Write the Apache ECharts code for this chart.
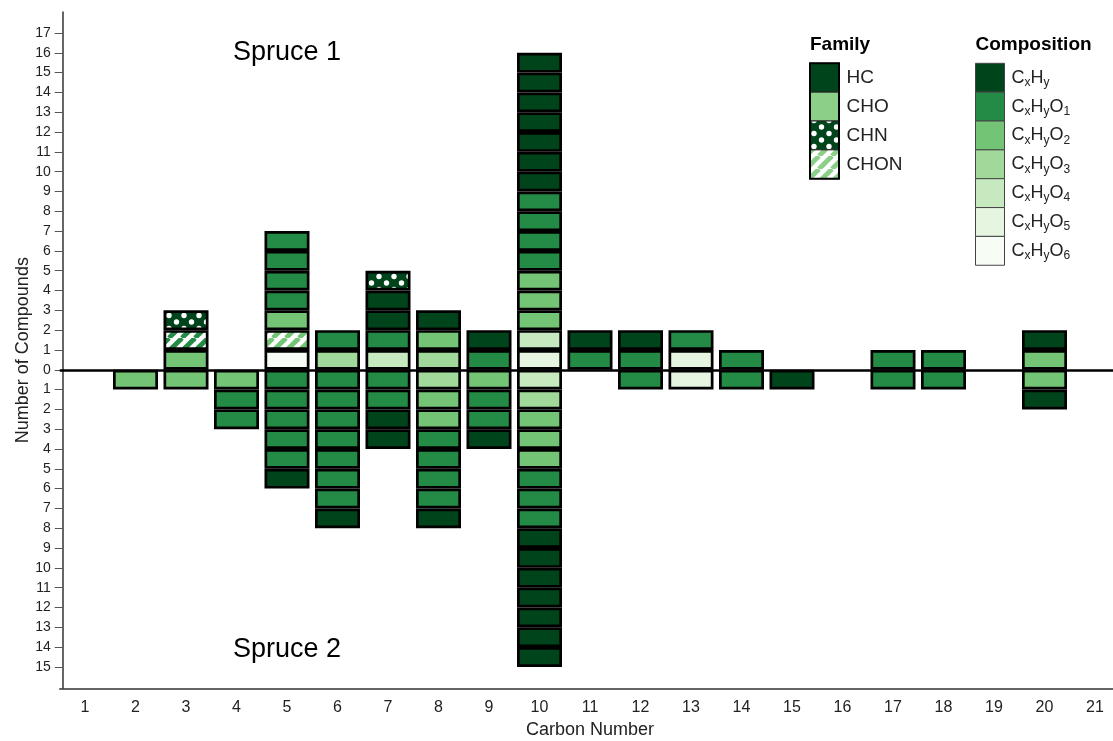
<!DOCTYPE html>
<html>
<head>
<meta charset="utf-8">
<script src="https://cdn.jsdelivr.net/npm/echarts@6/dist/echarts.min.js"></script>
<style>
  html, body { margin: 0; padding: 0; background: #fff; overflow: hidden; }
  #chart { width: 1121px; height: 741px; }
</style>
</head>
<body>
<div id="chart"></div>
<script>
// Carbon numbers along the x axis
const carbonNumbers = ['1','2','3','4','5','6','7','8','9','10','11','12','13','14','15','16','17','18','19','20','21'];

// Tick positions on the count axis (negative side = Spruce 2)
const countTicks = [-15,-14,-13,-12,-11,-10,-9,-8,-7,-6,-5,-4,-3,-2,-1,0,1,2,3,4,5,6,7,8,9,10,11,12,13,14,15,16,17];

// Compounds found in Spruce 1, one list per carbon number,
// each cell listed outward from the zero line.
const spruce1Cells = [
  [],
  [],
  ['O2','CHON1','CHN'],
  [],
  ['O6','CHON2','O2','O1','O1','O1','O1'],
  ['O3','O1'],
  ['O4','O1','HC','HC','CHN'],
  ['O3','O2','HC'],
  ['O1','HC'],
  ['O5','O4','O2','O2','O2','O1','O1','O1','O1','HC','HC','HC','HC','HC','HC','HC'],
  ['O1','HC'],
  ['O1','HC'],
  ['O5','O1'],
  ['O1'],
  [],
  [],
  ['O1'],
  ['O1'],
  [],
  ['O2','HC'],
  []
];

// Compounds found in Spruce 2, same layout (drawn below the zero line).
const spruce2Cells = [
  [],
  ['O2'],
  ['O2'],
  ['O2','O1','O1'],
  ['O1','O1','O1','O1','O1','HC'],
  ['O1','O1','O1','O1','O1','O1','O1','HC'],
  ['O1','O1','HC','HC'],
  ['O3','O2','O2','O1','O1','O1','O1','HC'],
  ['O2','O1','O1','HC'],
  ['O4','O3','O2','O2','O2','O1','O1','O1','HC','HC','HC','HC','HC','HC','HC'],
  [],
  ['O1'],
  ['O5'],
  ['O1'],
  ['HC'],
  [],
  ['O1'],
  ['O1'],
  [],
  ['O2','HC'],
  []
];

// Legend entries
const familyLabels = ['HC', 'CHO', 'CHN', 'CHON'];
const compositionOxygens = ['', '1', '2', '3', '4', '5', '6'];

// ---- styles ----
const FONT = 'Liberation Sans, Arial, Helvetica, sans-serif';
const greens = {
  HC: '#00441b',
  O1: '#238b45',
  O2: '#74c476',
  O3: '#a1d99b',
  O4: '#c7e9c0',
  O5: '#e5f5e0',
  O6: '#f7fcf5'
};
const choColor = '#8ccf89';

function dotPattern(bg) {
  const w = 15, h = 13;
  const c = document.createElement('canvas');
  c.width = w; c.height = h;
  const g = c.getContext('2d');
  g.fillStyle = bg; g.fillRect(0, 0, w, h);
  g.fillStyle = '#ffffff';
  [[4, 3.5], [11.5, 10]].forEach(([x, y]) => {
    g.beginPath(); g.arc(x, y, 2.7, 0, Math.PI * 2); g.fill();
  });
  return { image: c, repeat: 'repeat' };
}

function stripePattern(fg) {
  const p = 13;
  const c = document.createElement('canvas');
  c.width = p; c.height = p;
  const g = c.getContext('2d');
  g.fillStyle = '#ffffff'; g.fillRect(0, 0, p, p);
  g.strokeStyle = fg; g.lineWidth = 4.8;
  for (let k = -1; k <= 1; k++) {
    g.beginPath(); g.moveTo(k * p, p); g.lineTo(k * p + p, 0); g.stroke();
  }
  return { image: c, repeat: 'repeat' };
}

const fills = Object.assign({}, greens, {
  CHN: dotPattern(greens.HC),
  CHON1: stripePattern(greens.O1),
  CHON2: stripePattern(greens.O2)
});

// ---- series: one stacked layer per cell depth ----
const series = [];
function addSide(cells, sign, tag) {
  const depth = Math.max(...cells.map(list => list.length));
  for (let k = 0; k < depth; k++) {
    series.push({
      name: tag + '-' + k,
      type: 'bar',
      stack: 'cells',
      barWidth: 45,
      silent: true,
      itemStyle: { borderColor: '#000', borderWidth: 2.7 },
      data: cells.map(list => k < list.length
        ? { value: sign, itemStyle: { color: fills[list[k]] } }
        : '-')
    });
  }
}
addSide(spruce1Cells, 1, 'spruce1');
addSide(spruce2Cells, -1, 'spruce2');

// zero line dividing the two samples
series[0].markLine = {
  silent: true,
  symbol: 'none',
  label: { show: false },
  lineStyle: { color: '#000', width: 2.5, type: 'solid' },
  data: [{ yAxis: 0 }]
};

// ---- legend drawn as graphic elements ----
const graphics = [];
const famX = 810, compX = 975.5, legTop = 63.3, cellH = 28.85;

graphics.push({ type: 'text', x: famX, y: 45, style: { text: 'Family', font: 'bold 19px ' + FONT, fill: '#000', verticalAlign: 'middle' } });
graphics.push({ type: 'text', x: compX, y: 45, style: { text: 'Composition', font: 'bold 19px ' + FONT, fill: '#000', verticalAlign: 'middle' } });

const familyFills = [greens.HC, choColor, dotPattern(greens.HC), stripePattern(choColor)];
familyLabels.forEach((label, i) => {
  graphics.push({ type: 'rect', shape: { x: famX, y: legTop + i * cellH, width: 29, height: cellH },
    style: { fill: familyFills[i], stroke: '#222', lineWidth: 1 } });
  graphics.push({ type: 'text', x: 846.5, y: legTop + (i + 0.5) * cellH,
    style: { text: label, font: '19px ' + FONT, fill: '#222', verticalAlign: 'middle' } });
});
graphics.push({ type: 'rect', shape: { x: famX, y: legTop, width: 29, height: cellH * familyLabels.length },
  style: { fill: 'none', stroke: '#000', lineWidth: 2 } });

const compKeys = ['HC', 'O1', 'O2', 'O3', 'O4', 'O5', 'O6'];
compositionOxygens.forEach((n, i) => {
  graphics.push({ type: 'rect', shape: { x: compX, y: legTop + i * cellH, width: 29, height: cellH },
    style: { fill: greens[compKeys[i]], stroke: '#444', lineWidth: 1 } });
  const txt = '{m|C}{s|x}{m|H}{s|y}' + (n ? '{m|O}{s|' + n + '}' : '');
  graphics.push({ type: 'text', x: 1011.5, y: legTop + (i + 0.5) * cellH,
    style: {
      text: txt, fill: '#222', verticalAlign: 'middle',
      rich: {
        m: { fontSize: 18, fontFamily: FONT, fill: '#222', lineHeight: 22, verticalAlign: 'middle' },
        s: { fontSize: 12, fontFamily: FONT, fill: '#222', lineHeight: 14, verticalAlign: 'bottom' }
      }
    } });
});

// sample names
graphics.push({ type: 'text', x: 287, y: 53, style: { text: 'Spruce 1', font: '27px ' + FONT, fill: '#000', align: 'center', verticalAlign: 'middle' } });
graphics.push({ type: 'text', x: 287, y: 650, style: { text: 'Spruce 2', font: '27px ' + FONT, fill: '#000', align: 'center', verticalAlign: 'middle' } });

const chart = echarts.init(document.getElementById('chart'), null, { renderer: 'canvas' });
chart.setOption({
  animation: false,
  backgroundColor: '#ffffff',
  grid: { left: 59.75, right: 0.75, top: 12, bottom: 52.7, outerBoundsMode: 'none' },
  xAxis: {
    type: 'category',
    data: carbonNumbers,
    boundaryGap: true,
    position: 'bottom',
    name: 'Carbon Number',
    nameLocation: 'middle',
    nameGap: 33,
    nameMoveOverlap: false,
    nameTextStyle: { fontSize: 18, fontFamily: FONT, color: '#222' },
    axisLine: { onZero: false, lineStyle: { color: '#333', width: 1.5 } },
    axisTick: { alignWithLabel: true, length: 9, lineStyle: { color: '#555', width: 1 } },
    axisLabel: { margin: 11, fontSize: 16, fontFamily: 'Liberation Sans Narrow, ' + FONT, color: '#222' },
    splitLine: { show: false }
  },
  yAxis: {
    type: 'value',
    position: 'left',
    offset: -2.95,
    min: -16.08,
    max: 18.06,
    name: 'Number of Compounds',
    nameLocation: 'middle',
    nameRotate: 90,
    nameGap: 31,
    nameMoveOverlap: false,
    nameTextStyle: { fontSize: 18, fontFamily: FONT, color: '#222' },
    axisLine: { show: true, lineStyle: { color: '#333', width: 1.5 } },
    axisTick: { show: true, length: 8, customValues: countTicks, lineStyle: { color: '#555', width: 1 } },
    axisLabel: { margin: 12, fontSize: 14, fontFamily: FONT, color: '#222', customValues: countTicks,
      formatter: v => String(Math.abs(v)) },
    splitLine: { show: false }
  },
  graphic: graphics,
  series: series
});
</script>
</body>
</html>
